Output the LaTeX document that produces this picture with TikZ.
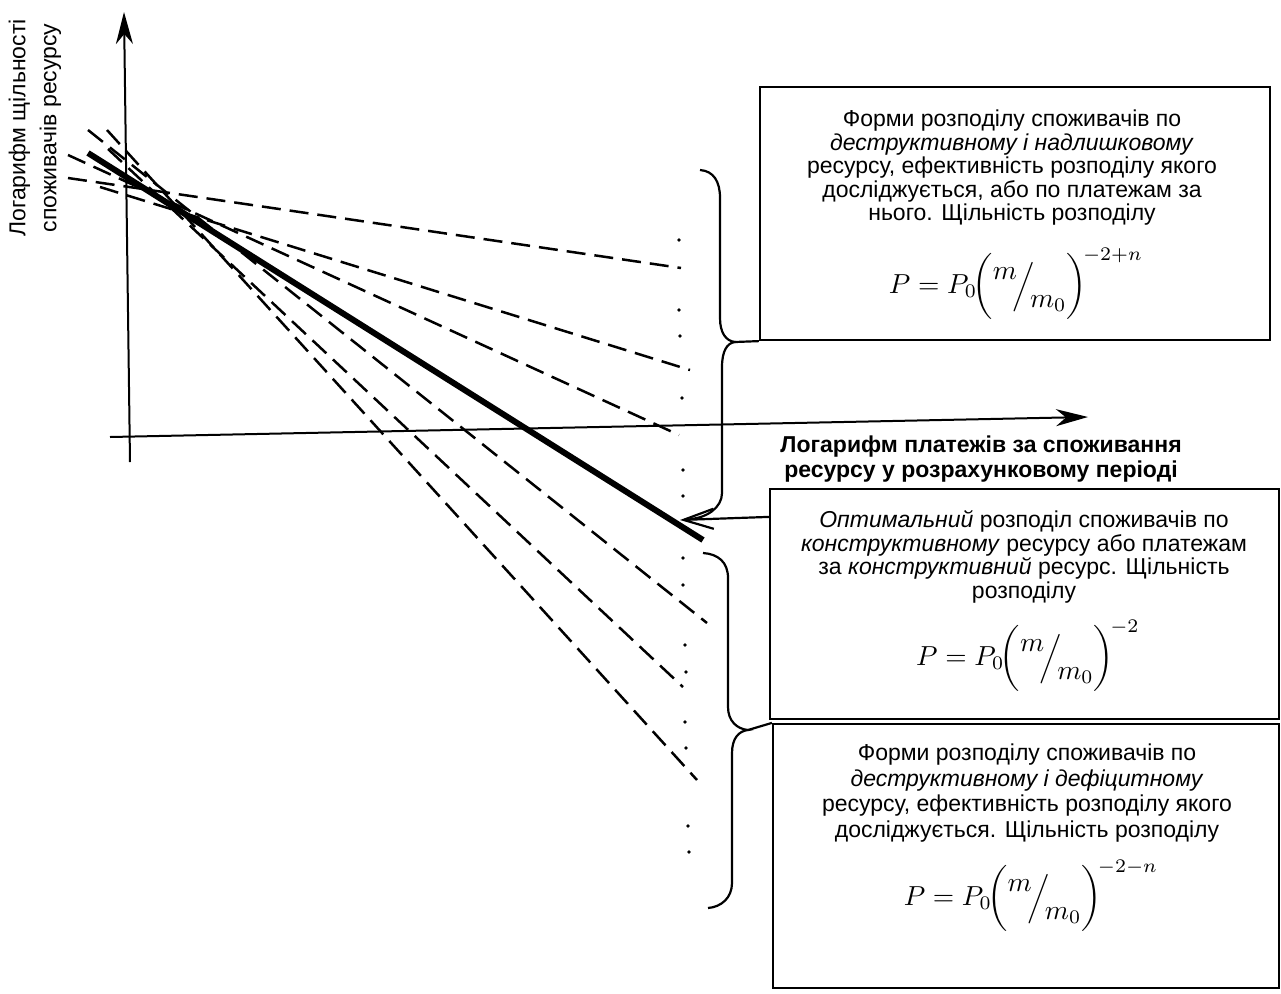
\documentclass[tikz,border=0pt]{standalone}
\usepackage{fontspec}
\setmainfont{Liberation Sans}
\usetikzlibrary{arrows.meta,calc}
\tikzset{
  ax/.style={line width=2pt, -{Stealth[length=32pt,width=17pt,inset=10pt]}},
  dline/.style={line width=2.5pt, dash pattern=on 19pt off 9pt},
  thickline/.style={line width=6pt},
  bx/.style={draw, line width=2.2pt, rectangle, inner sep=0pt},
  brc/.style={line width=2.2pt},
  boxtext/.style={align=center, inner sep=0pt, font=\fontsize{23}{23.5}\selectfont},
  formula/.style={inner sep=0pt},
}
\newcommand{\frm}[1]{\scalebox{2.75}{$P = P_0\!\biggl(\raisebox{0.5em}{$m$}\!\Big/\!\raisebox{-0.5em}{$m_0$}\biggr)^{\!#1}$}}
\begin{document}
\begin{tikzpicture}[x=1pt,y=-1pt]
\useasboundingbox[fill=white] (0,0) rectangle (1281,993);

% axes
\coordinate (yb) at (130,462);
\coordinate (yt) at (124,12);
\coordinate (xl) at (110,437);
\coordinate (xr) at (1088,417);
\draw[ax] (yb) -- (yt);
\draw[ax] (xl) -- (xr);

% axis labels
\node[rotate=90, align=center, inner sep=0pt, font=\fontsize{23}{31}\selectfont] (ylab) at (35,128)
  {Логарифм щільності\\споживачів ресурсу};
\node[align=center, inner sep=0pt, font=\bfseries\fontsize{23}{25}\selectfont] (xlab) at (981,459)
  {Логарифм платежів за споживання\\ресурсу у розрахунковому періоді};

% lines
\draw[dline] (68,178) -- (681,268);
\draw[dline] (100,187) -- (690,370);
\draw[dline] (68,155) -- (679,435);
\draw[dline] (88,130) -- (707,623);
\draw[dline] (108,149) -- (683,687);
\draw[dline] (107,130) -- (697,780);
\draw[thickline] (88,153) -- (703,540);

% dots
\foreach \px/\py in {679/240,679/310,680/336,682/398,683/470,683/496,683/558,683/585,685/645,686/672,685/722,686/748,688/826,689/852}
  \fill (\px,\py) circle (1.8pt);

% boxes
\node[bx, minimum width=510pt, minimum height=253pt] (topb) at (1015,213.5) {};
\node[bx, minimum width=509pt, minimum height=230pt] (midb) at (1024.5,604) {};
\node[bx, minimum width=506pt, minimum height=264pt] (botb) at (1026,856) {};

\node[boxtext] (topt) at (1012,168) {Форми розподілу споживачів по\\
  \textit{деструктивному і надлишковому}\\
  ресурсу, ефективність розподілу якого\\
  досліджується, або по платежам за\\
  нього. Щільність розподілу};
\node[formula] (topf) at (1016,284) {\frm{-2+n}};

\node[boxtext] (midt) at (1024,557) {\textit{Оптимальний} розподіл споживачів по\\
  \textit{конструктивному} ресурсу або платежам\\
  за \textit{конструктивний} ресурс. Щільність\\
  розподілу};
\node[formula] (midf) at (1028,656) {\frm{-2}};

\node[boxtext, font=\fontsize{23}{25.5}\selectfont] (bott) at (1027,793) {Форми розподілу споживачів по\\
  \textit{деструктивному і дефіцитному}\\
  ресурсу, ефективність розподілу якого\\
  досліджується. Щільність розподілу};
\node[formula] (botf) at (1031,896) {\frm{-2-n}};

% braces
\coordinate (tip1) at (735,342);
\coordinate (tip2) at (748,730);
\draw[brc] (700,170) .. controls (714,171) and (720,182) .. (720,198) -- (720,318)
  .. controls (720,333) and (726,341) .. (tip1)
  .. controls (727,343) and (722,351) .. (722,367) -- (722,493)
  .. controls (722,508) and (706,518) .. (690,519);
\draw[brc] (tip1) -- (topb.south west);
\draw[brc] (703,553) .. controls (718,554) and (728,562) .. (728,578) -- (728,707)
  .. controls (728,721) and (737,729) .. (tip2)
  .. controls (739,731) and (732,738) .. (732,753) -- (732,883)
  .. controls (732,898) and (721,907) .. (708,908);
\draw[brc] (tip2) -- (botb.north west);

% arrow to the optimal line
\coordinate (arrtip) at (680,520);
\draw[line width=2.2pt, -{Straight Barb[length=30pt,width=20pt]}] ($(midb.north west)+(0,29)$) -- (arrtip);
\end{tikzpicture}
\end{document}
